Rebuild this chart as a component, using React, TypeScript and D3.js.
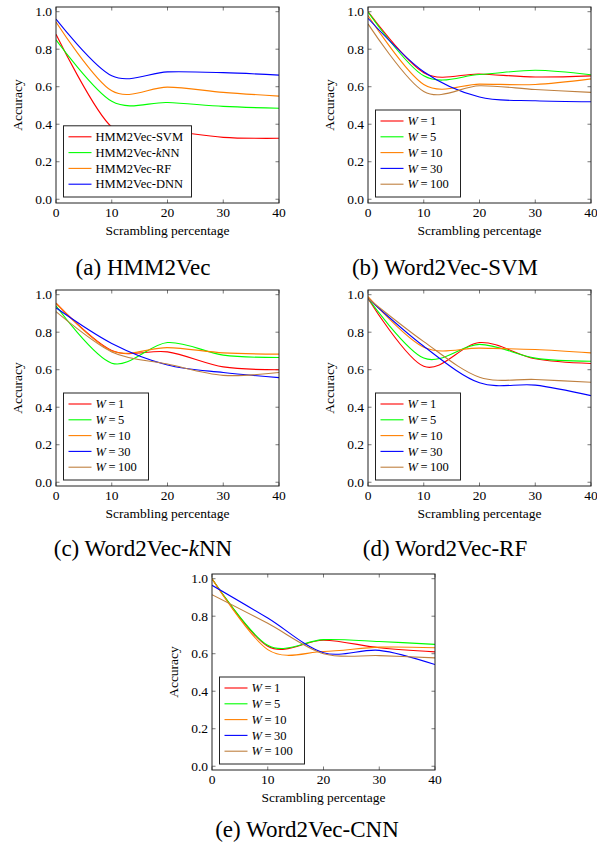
import React from 'react';
import * as d3 from 'd3';

// ---------- data ----------
const xValues = [0, 10, 20, 30, 40];
const xTicks = [0, 10, 20, 30, 40];
const yTicks = [0, 0.2, 0.4, 0.6, 0.8, 1.0];

const hmmLabels = ['HMM2Vec-SVM', 'HMM2Vec-kNN', 'HMM2Vec-RF', 'HMM2Vec-DNN'];
const wLabels = ['1', '5', '10', '30', '100'];
const seriesColors = ['#ff0000', '#00ff00', '#ff8000', '#0000ff', '#bf8040'];

// (a) HMM2Vec
const hmmSVM = [0.88, 0.385, 0.365, 0.33, 0.325];
const hmmKNN = [0.85, 0.522, 0.516, 0.495, 0.485];
const hmmRF = [0.945, 0.578, 0.598, 0.57, 0.55];
const hmmDNN = [0.96, 0.658, 0.679, 0.675, 0.662];

// (b) Word2Vec-SVM
const svmW1 = [1.0, 0.675, 0.668, 0.652, 0.658];
const svmW5 = [0.998, 0.658, 0.665, 0.688, 0.664];
const svmW10 = [0.98, 0.612, 0.614, 0.612, 0.642];
const svmW30 = [0.965, 0.68, 0.545, 0.525, 0.52];
const svmW100 = [0.935, 0.575, 0.605, 0.585, 0.57];

// (c) Word2Vec-kNN
const knnW1 = [0.955, 0.703, 0.695, 0.615, 0.6];
const knnW5 = [0.94, 0.635, 0.745, 0.678, 0.665];
const knnW10 = [0.955, 0.7, 0.718, 0.69, 0.683];
const knnW30 = [0.93, 0.74, 0.625, 0.585, 0.558];
const knnW100 = [0.91, 0.695, 0.63, 0.57, 0.585];

// (d) Word2Vec-RF
const rfW1 = [0.98, 0.618, 0.745, 0.658, 0.633];
const rfW5 = [0.98, 0.662, 0.735, 0.662, 0.645];
const rfW10 = [0.99, 0.72, 0.715, 0.708, 0.69];
const rfW30 = [0.98, 0.725, 0.53, 0.518, 0.462];
const rfW100 = [0.98, 0.75, 0.56, 0.548, 0.533];

// (e) Word2Vec-CNN
const cnnW1 = [1.0, 0.64, 0.672, 0.632, 0.61];
const cnnW5 = [1.0, 0.645, 0.675, 0.665, 0.65];
const cnnW10 = [1.0, 0.622, 0.612, 0.635, 0.632];
const cnnW30 = [0.965, 0.79, 0.605, 0.618, 0.542];
const cnnW100 = [0.915, 0.762, 0.6, 0.59, 0.578];

// ---------- layout ----------
const FONT = 'Liberation Serif';
const PW = 223;
const PH = 196;

type Panel = {
  id: string;
  left: number;
  top: number;
  series: number[][];
  legend: 'hmm' | 'w';
  capX: number;
  capY: number;
  capPre: string;
  capItalic?: string;
  capPost?: string;
};

const panels: Panel[] = [
  { id: 'a', left: 56, top: 7, series: [hmmSVM, hmmKNN, hmmRF, hmmDNN], legend: 'hmm', capX: 143, capY: 275, capPre: '(a) HMM2Vec' },
  { id: 'b', left: 368, top: 7, series: [svmW1, svmW5, svmW10, svmW30, svmW100], legend: 'w', capX: 445, capY: 275, capPre: '(b) Word2Vec-SVM' },
  { id: 'c', left: 56, top: 290, series: [knnW1, knnW5, knnW10, knnW30, knnW100], legend: 'w', capX: 143, capY: 556, capPre: '(c) Word2Vec-', capItalic: 'k', capPost: 'NN' },
  { id: 'd', left: 368, top: 290, series: [rfW1, rfW5, rfW10, rfW30, rfW100], legend: 'w', capX: 445, capY: 556, capPre: '(d) Word2Vec-RF' },
  { id: 'e', left: 212, top: 574, series: [cnnW1, cnnW5, cnnW10, cnnW30, cnnW100], legend: 'w', capX: 307, capY: 837, capPre: '(e) Word2Vec-CNN' },
];

function LegendLabel({ kind, i }: { kind: 'hmm' | 'w'; i: number }) {
  if (kind === 'hmm') {
    const lab = hmmLabels[i];
    if (lab.endsWith('kNN')) {
      return (
        <>
          <tspan>HMM2Vec-</tspan>
          <tspan fontStyle="italic">k</tspan>
          <tspan>NN</tspan>
        </>
      );
    }
    return <tspan>{lab}</tspan>;
  }
  return (
    <>
      <tspan fontStyle="italic">W</tspan>
      <tspan>{'\u2009=\u2009' + wLabels[i]}</tspan>
    </>
  );
}

function ChartPanel({ p }: { p: Panel }) {
  const x = d3.scaleLinear().domain([0, 40]).range([p.left, p.left + PW]);
  const y = d3.scaleLinear().domain([-0.02, 1.025]).range([p.top + PH, p.top]);
  const line = d3
    .line<[number, number]>()
    .x((d) => x(d[0]))
    .y((d) => y(d[1]))
    .curve(d3.curveCardinal.tension(0.05));

  const n = p.series.length;
  const legW = p.legend === 'hmm' ? 128 : 85;
  const rowH = 15.8;
  const legH = n * rowH + 8;
  const legX = p.left + 7.5;
  const legY = p.top + PH - 6 - legH;
  const tickLen = 3.5;
  const bottom = p.top + PH;
  const right = p.left + PW;

  return (
    <g>
      <defs>
        <clipPath id={'clip-' + p.id}>
          <rect x={p.left} y={p.top} width={PW} height={PH} />
        </clipPath>
      </defs>
      {yTicks.map((t) => (
        <g key={'yt' + t}>
          <line x1={p.left} x2={p.left + tickLen} y1={y(t)} y2={y(t)} stroke="#555" strokeWidth={0.8} />
          <line x1={right} x2={right - tickLen} y1={y(t)} y2={y(t)} stroke="#555" strokeWidth={0.8} />
          <text x={p.left - 4} y={y(t)} dy="0.33em" textAnchor="end" fontSize={13.5}>
            {d3.format('.1f')(t)}
          </text>
        </g>
      ))}
      {xTicks.map((t) => (
        <g key={'xt' + t}>
          <line x1={x(t)} x2={x(t)} y1={bottom} y2={bottom - tickLen} stroke="#555" strokeWidth={0.8} />
          <line x1={x(t)} x2={x(t)} y1={p.top} y2={p.top + tickLen} stroke="#555" strokeWidth={0.8} />
          <text x={x(t)} y={bottom + 14} textAnchor="middle" fontSize={13.5}>
            {t}
          </text>
        </g>
      ))}
      <g clipPath={`url(#clip-${p.id})`}>
        {p.series.map((s, i) => (
          <path
            key={i}
            d={line(xValues.map((xv, j) => [xv, s[j]] as [number, number])) || ''}
            fill="none"
            stroke={seriesColors[i]}
            strokeWidth={1.1}
          />
        ))}
      </g>
      <rect x={p.left} y={p.top} width={PW} height={PH} fill="none" stroke="#222" strokeWidth={1} />
      <text x={p.left + PW / 2} y={bottom + 32} textAnchor="middle" fontSize={13.5}>
        Scrambling percentage
      </text>
      <text transform={`translate(${p.left - 34},${p.top + PH / 2}) rotate(-90)`} textAnchor="middle" fontSize={13.5}>
        Accuracy
      </text>
      <rect x={legX} y={legY} width={legW} height={legH} fill="#fff" stroke="#222" strokeWidth={1} />
      {p.series.map((_, i) => {
        const cy = legY + 11 + i * rowH;
        return (
          <g key={'lg' + i}>
            <line x1={legX + 5} x2={legX + 28} y1={cy} y2={cy} stroke={seriesColors[i]} strokeWidth={1.1} />
            <text x={legX + 32} y={cy} dy="0.33em" fontSize={12.5}>
              <LegendLabel kind={p.legend} i={i} />
            </text>
          </g>
        );
      })}
      <text x={p.capX} y={p.capY} textAnchor="middle" fontSize={23}>
        <tspan>{p.capPre}</tspan>
        {p.capItalic ? <tspan fontStyle="italic">{p.capItalic}</tspan> : null}
        {p.capPost ? <tspan>{p.capPost}</tspan> : null}
      </text>
    </g>
  );
}

export default function App() {
  return (
    <svg
      width={597}
      height={850}
      style={{ position: 'absolute', left: 0, top: 0, background: '#fff', fontFamily: FONT }}
      xmlns="http://www.w3.org/2000/svg"
    >
      <rect x={0} y={0} width={597} height={850} fill="#fff" />
      {panels.map((p) => (
        <ChartPanel key={p.id} p={p} />
      ))}
    </svg>
  );
}
